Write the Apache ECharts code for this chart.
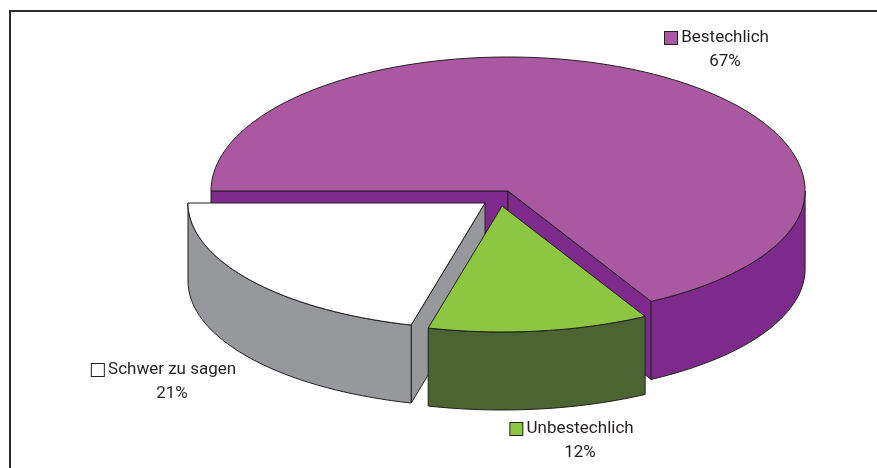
<!DOCTYPE html>
<html>
<head>
<meta charset="utf-8">
<script src="https://cdn.jsdelivr.net/npm/echarts@6/dist/echarts.min.js"></script>
<style>
  html, body { margin: 0; padding: 0; background: #fff; }
  #main { width: 877px; height: 468px; }
</style>
</head>
<body>
<div id="main"></div>
<script>
// data
var names = ['Bestechlich', 'Unbestechlich', 'Schwer zu sagen'];
var values = [67, 12, 21];
var pctLabels = ['67%', '12%', '21%'];

// styling
var topColors = ['#AA58A1', '#8DC641', '#FFFFFF'];
var sideColors = ['#7D2A8C', '#4C6332', '#97989C'];
var lineColor = '#231F20';
var explode = [[0, 0], [-6, 15], [-23, 12]];   // px offset of each slice
var labelPos = [[725, 38], [580, 429], [172, 370]]; // centre of the name text
var startAngle = 180;  // first slice starts pointing left, goes clockwise

var myChart = echarts.init(document.getElementById('main'));

var total = values.reduce(function (a, b) { return a + b; }, 0);

// angles of each slice (degrees, maths orientation)
var angles = [];
var acc = 0;
for (var k = 0; k < values.length; k++) {
    var a0 = startAngle - acc / total * 360;
    acc += values[k];
    var a1 = startAngle - acc / total * 360;
    angles.push([a0, a1]);
}
// back to front order
var order = angles.map(function (a, i) { return i; }).sort(function (p, q) {
    var mp = (angles[p][0] + angles[p][1]) / 2 * Math.PI / 180;
    var mq = (angles[q][0] + angles[q][1]) / 2 * Math.PI / 180;
    return Math.sin(mq) - Math.sin(mp);
});

function renderItem(params, api) {
    var i = params.dataIndex;
    var W = api.getWidth();
    var cx = W * 0.5793 + explode[i][0];
    var cy = 191 + explode[i][1];
    var rx = W * 0.3387;
    var ryBack = 134, ryFront = 126;
    var depth = 78;
    var a0 = angles[i][0], a1 = angles[i][1];
    var rank = order.indexOf(i);
    var base = rank * 10;

    function pt(deg, dy) {
        var t = deg * Math.PI / 180;
        var s = Math.sin(t);
        var ry = s > 0 ? ryBack : ryFront;
        return [cx + rx * Math.cos(t), cy - ry * s + (dy || 0)];
    }
    function arc(from, to, dy) {
        var pts = [];
        var n = Math.max(2, Math.ceil(Math.abs(from - to) / 2));
        for (var j = 0; j <= n; j++) {
            pts.push(pt(from + (to - from) * j / n, dy));
        }
        return pts;
    }
    var stroke = { stroke: lineColor, lineWidth: 1, lineJoin: 'round' };
    var children = [];

    // radial walls
    function radial(deg) {
        var p = pt(deg, 0);
        return {
            type: 'polygon', z2: base + 1,
            shape: { points: [[cx, cy], p, [p[0], p[1] + depth], [cx, cy + depth]] },
            style: Object.assign({ fill: sideColors[i] }, stroke)
        };
    }
    if (Math.cos(a0 * Math.PI / 180) < 0) children.push(radial(a0));
    if (Math.cos(a1 * Math.PI / 180) > 0) children.push(radial(a1));

    // outer wall, front part only
    var f0 = Math.min(a0, 0), f1 = Math.max(a1, -180);
    if (f0 > f1) {
        var topArc = arc(f0, f1, 0);
        var botArc = arc(f1, f0, depth);
        children.push({
            type: 'polygon', z2: base + 2,
            shape: { points: topArc.concat(botArc) },
            style: Object.assign({ fill: sideColors[i] }, stroke)
        });
    }

    // top face
    children.push({
        type: 'polygon', z2: base + 3,
        shape: { points: [[cx, cy]].concat(arc(a0, a1, 0)) },
        style: Object.assign({ fill: topColors[i] }, stroke)
    });

    // label
    var lx = labelPos[i][0], ly = labelPos[i][1];
    var font = '17px Roboto, "DejaVu Sans", sans-serif';
    children.push({
        type: 'text', z2: 100,
        x: lx - 8, y: ly,
        style: {
            text: '{box|} ' + names[i],
            fill: lineColor, font: font,
            align: 'center', verticalAlign: 'middle',
            textAlign: 'center', textVerticalAlign: 'middle',
            rich: {
                box: {
                    width: 12, height: 12,
                    backgroundColor: topColors[i],
                    borderColor: lineColor, borderWidth: 1
                }
            }
        }
    });
    children.push({
        type: 'text', z2: 100,
        x: lx, y: ly + 24,
        style: {
            text: pctLabels[i],
            fill: lineColor, font: font,
            align: 'center', verticalAlign: 'middle',
            textAlign: 'center', textVerticalAlign: 'middle'
        }
    });

    return { type: 'group', children: children };
}

var option = {
    animation: false,
    backgroundColor: '#ffffff',
    // frame
    graphic: [
        { type: 'line', shape: { x1: 10, y1: 11, x2: 877, y2: 11 }, style: { stroke: '#2b2b2b', lineWidth: 2 } },
        { type: 'line', shape: { x1: 10, y1: 10, x2: 10, y2: 468 }, style: { stroke: '#2b2b2b', lineWidth: 2 } }
    ],
    series: [{
        type: 'custom',
        coordinateSystem: 'none',
        renderItem: renderItem,
        silent: true,
        data: values.map(function (v, i) { return { value: v, name: names[i] }; })
    }]
};

myChart.setOption(option);
</script>
</body>
</html>
